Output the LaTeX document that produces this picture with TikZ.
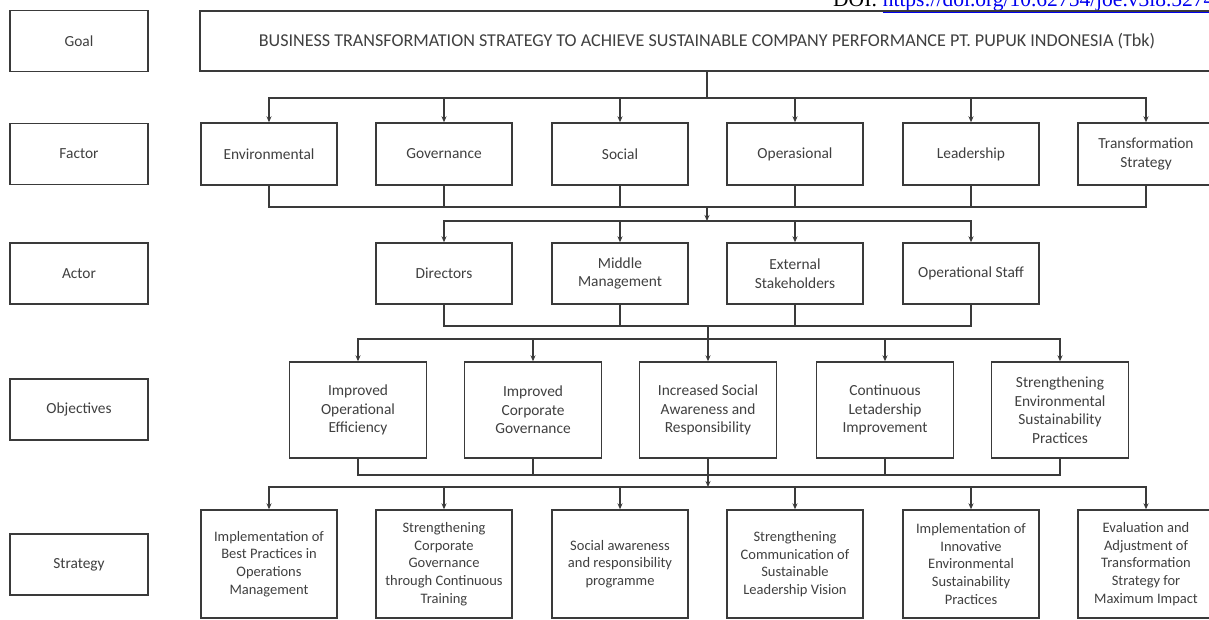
\documentclass[tikz,border=0pt]{standalone}
\usepackage{fontspec}
\setmainfont{Carlito}
\newfontfamily\doifont{Liberation Serif}
\usetikzlibrary{arrows.meta}
\definecolor{ln}{HTML}{3A3A3A}
\definecolor{tx}{HTML}{404040}
\definecolor{lnk}{HTML}{0000EE}
\begin{document}
\begin{tikzpicture}[x=1pt,y=1pt,
  box/.style={draw=ln,line width=1.4pt,text=tx,align=center,inner sep=0pt,font=\fontsize{15.4}{18.5}\selectfont},
  lab/.style={box,minimum width=138pt,minimum height=61pt},
  fbox/.style={box,minimum width=136pt,minimum height=62pt},
  abox/.style={box,minimum width=136pt,minimum height=61pt},
  obox/.style={box,minimum width=137pt,minimum height=96pt},
  sbox/.style={box,minimum width=136pt,minimum height=108pt,font=\fontsize{14.5}{17.7}\selectfont},
  conn/.style={draw=ln,line width=1.3pt},
  arr/.style={conn,-{Stealth[length=6pt,width=5pt]}}]
\useasboundingbox (0,0) rectangle (1209,-619);
\fill[white] (0,0) rectangle (1209,-619);

% DOI (cut off at the top)
\node[anchor=base west,inner sep=0pt,font=\doifont\fontsize{21.5}{21.5}\selectfont] (doi) at (833,-6)
  {DOI: \textcolor{lnk}{\underline{https://doi.org/10.62754/joe.v3i8.5274}}};

% level labels
\node[lab] (lgoal) at (79,-41) {Goal};
\node[lab] (lfac) at (79,-154) {Factor};
\node[lab] (lact) at (79,-273.5) {Actor};
\node[lab] (lobj) at (79,-409.5) {Objectives};
\node[lab] (lstr) at (79,-564.5) {Strategy};

% goal
\node[box,minimum width=1014pt,minimum height=60pt,font=\fontsize{18.1}{22}\selectfont] (goal) at (707,-41)
  {BUSINESS TRANSFORMATION STRATEGY TO ACHIEVE SUSTAINABLE COMPANY PERFORMANCE PT. PUPUK INDONESIA (Tbk)};

% factors
\node[fbox] (f1) at (269,-154) {Environmental};
\node[fbox] (f2) at (444,-154) {Governance};
\node[fbox] (f3) at (620,-154) {Social};
\node[fbox] (f4) at (795,-154) {Operasional};
\node[fbox] (f5) at (971,-154) {Leadership};
\node[fbox] (f6) at (1146,-154) {Transformation\\Strategy};

% actors
\node[abox] (a1) at (444,-273.5) {Directors};
\node[abox] (a2) at (620,-273.5) {Middle\\Management};
\node[abox] (a3) at (795,-273.5) {External\\Stakeholders};
\node[abox] (a4) at (971,-273.5) {Operational Staff};

% objectives
\node[obox] (o1) at (358,-410) {Improved\\Operational\\Efficiency};
\node[obox] (o2) at (533,-410) {Improved\\Corporate\\Governance};
\node[obox] (o3) at (708,-410) {Increased Social\\Awareness and\\Responsibility};
\node[obox] (o4) at (885,-410) {Continuous\\Letadership\\Improvement};
\node[obox] (o5) at (1060,-410) {Strengthening\\Environmental\\Sustainability\\Practices};

% strategies
\node[sbox] (s1) at (269,-564) {Implementation of\\Best Practices in\\Operations\\Management};
\node[sbox] (s2) at (444,-564) {Strengthening\\Corporate\\Governance\\through Continuous\\Training};
\node[sbox] (s3) at (620,-564) {Social awareness\\and responsibility\\programme};
\node[sbox] (s4) at (795,-564) {Strengthening\\Communication of\\Sustainable\\Leadership Vision};
\node[sbox] (s5) at (971,-564) {Implementation of\\Innovative\\Environmental\\Sustainability\\Practices};
\node[sbox] (s6) at (1146,-564) {Evaluation and\\Adjustment of\\Transformation\\Strategy for\\Maximum Impact};

% bus points
\coordinate (g1) at (707,-98);
\coordinate (c1) at (707,-207);
\coordinate (d1) at (707,-221);
\coordinate (c2) at (708,-326);
\coordinate (d2) at (708,-339);
\coordinate (c3) at (708,-475);
\coordinate (d3) at (708,-487);

% goal -> factors
\draw[conn] (goal.south) -- (g1);
\foreach \n in {f1,f2,f3,f4,f5,f6} \draw[arr] (g1) -| (\n.north);

% factors -> actors
\foreach \n in {f1,f2,f3,f4,f5,f6} \draw[conn] (\n.south) |- (c1);
\draw[arr] (c1) -- (d1);
\foreach \n in {a1,a2,a3,a4} \draw[arr] (d1) -| (\n.north);

% actors -> objectives
\foreach \n in {a1,a2,a3,a4} \draw[conn] (\n.south) |- (c2);
\draw[conn] (c2) -- (d2);
\foreach \n in {o1,o2,o3,o4,o5} \draw[arr] (d2) -| (\n.north);

% objectives -> strategies
\foreach \n in {o1,o2,o3,o4,o5} \draw[conn] (\n.south) |- (c3);
\draw[arr] (c3) -- (d3);
\foreach \n in {s1,s2,s3,s4,s5,s6} \draw[arr] (d3) -| (\n.north);
\end{tikzpicture}
\end{document}
